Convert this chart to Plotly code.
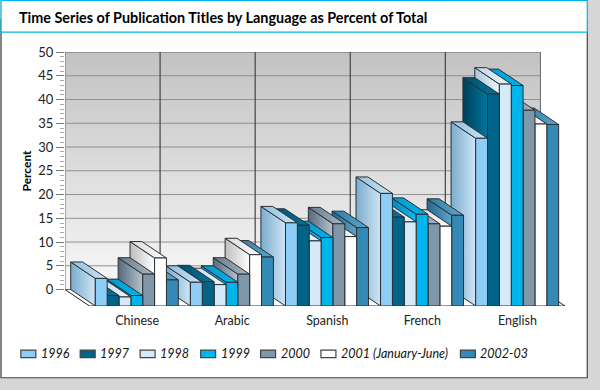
import plotly.graph_objects as go

languages = ["Chinese", "Arabic", "Spanish", "French", "English"]
periods = ["1996", "1997", "1998", "1999", "2000", "2001 (January-June)", "2002-03"]

# percent of total, one list per period, same order as languages
p1996 = [5.8, 5.0, 17.5, 23.7, 35.3]
p1997 = [2.2, 5.1, 17.0, 18.7, 44.6]
p1998 = [1.9, 4.5, 13.7, 17.7, 46.7]
p1999 = [2.2, 5.0, 14.4, 19.3, 46.4]
p2000 = [6.7, 6.7, 17.3, 17.3, 41.2]
p2001 = [10.1, 10.8, 14.6, 16.8, 38.3]
p2002 = [5.5, 10.3, 16.5, 19.1, 38.2]
series = [p1996, p1997, p1998, p1999, p2000, p2001, p2002]

y_ticks = [0, 5, 10, 15, 20, 25, 30, 35, 40, 45, 50]

front_colors = ["#8ecdf5", "#006489", "#d5e9f8", "#00b4ec", "#7f97a9", "#ffffff", "#338ab7"]
side_back = ["#7aaccd", "#003f58", "#a9c6dc", "#0089b8", "#56697a", "#bdbdbd", "#24668c"]
side_front = ["#cfe5f5", "#00769f", "#eef6fb", "#16b8ee", "#b4c4d0", "#ffffff", "#5ea5ca"]
top_back = ["#8fc0de", "#004f6e", "#bdd5e6", "#0099cc", "#66798a", "#d8d8d8", "#2f7aa3"]
top_front = ["#cbe4f6", "#00779f", "#eef6fb", "#00b4ec", "#a9bac7", "#ffffff", "#5fa6cb"]
edge = "#2b2f33"

# pixel layout of the plot area
L, R, T, B = 64.5, 565.0, 52.3, 305.7
PX_X = 95.2   # px per category
PX_Y = 4.74   # px per percent
DX = 24.6 / PX_X   # depth of the fake 3d, in axis units
DY = (B - 289.3) / PX_Y
BAR_W = 11.87 / PX_X
PAD = 5.75 / PX_X
FLOOR = -DY


def px(x):
    return (x - L) / (R - L)


def py(y):
    return (B - y) / (B - T)


def grad(a, b, kind="horizontal"):
    return dict(type=kind, colorscale=[[0, a], [1, b]])


def poly(xs, ys, gradient=None, color=None, line=edge, width=1):
    kw = dict(fillgradient=gradient) if gradient else dict(fillcolor=color)
    return go.Scatter(x=xs, y=ys, mode="lines", fill="toself", line=dict(color=line, width=width),
                      hoverinfo="skip", showlegend=False, cliponaxis=False, **kw)


fig = go.Figure()

# floor and back wall
fig.add_trace(poly([-DX, 0, 5, 5 - DX, -DX], [0, FLOOR, FLOOR, 0, 0], color="#ffffff", line="#222222"))
fig.add_trace(poly([-DX, 5 - DX, 5 - DX, -DX, -DX], [0, 0, 50, 50, 0],
                   gradient=grad("#f8f8f8", "#c2c2c2", "vertical"), line="#666666"))

# gridlines on the wall
gx, gy = [], []
for t in y_ticks[1:-1]:
    gx += [-DX, 5 - DX, None]
    gy += [t, t, None]
fig.add_trace(go.Scatter(x=gx, y=gy, mode="lines", line=dict(color="#909090", width=1),
                         hoverinfo="skip", showlegend=False))
vx, vy = [], []
for i in range(1, 5):
    vx += [i - DX, i - DX, None]
    vy += [0, 50, None]
fig.add_trace(go.Scatter(x=vx, y=vy, mode="lines", line=dict(color="#444444", width=1.2),
                         hoverinfo="skip", showlegend=False))

# bars, right to left: the camera sits on the left, so left bars hide right ones
for c in reversed(range(len(languages))):
    for s in reversed(range(len(series))):
        v = series[s][c]
        x0 = c + PAD + s * BAR_W
        x1 = x0 + BAR_W
        top = v - DY
        fig.add_trace(poly([x0 - DX, x0, x0, x0 - DX, x0 - DX], [v, top, FLOOR, 0, v],
                           gradient=grad(side_back[s], side_front[s])))
        fig.add_trace(poly([x0 - DX, x1 - DX, x1, x0, x0 - DX], [v, v, top, top, v],
                           gradient=grad(top_back[s], top_front[s])))
        fig.add_trace(poly([x0, x1, x1, x0, x0], [FLOOR, FLOOR, top, top, FLOOR], color=front_colors[s]))

shapes = [
    dict(type="rect", xref="paper", yref="paper", x0=px(12.5), x1=px(600), y0=py(13), y1=py(390),
         fillcolor="#d6d6d6", line_width=0, layer="below"),
    dict(type="rect", xref="paper", yref="paper", x0=px(0.5), x1=px(587.3), y0=py(20), y1=py(377.3),
         fillcolor="#ffffff", line=dict(color="#444444", width=1.2), layer="below"),
    dict(type="rect", xref="paper", yref="paper", x0=px(0.5), x1=px(587.3), y0=py(0.7), y1=py(32.5),
         fillcolor="#ffffff", line=dict(color="#00b5ef", width=1.2), layer="below"),
]
annotations = [
    dict(text="<b>Time Series of Publication Titles by Language as Percent of Total</b>",
         xref="paper", yref="paper", x=px(16.5), y=py(18), xanchor="left", yanchor="middle", showarrow=False,
         font=dict(family="Lato", size=14.4, color="#000000")),
    dict(text="<b>Percent</b>", xref="paper", yref="paper", x=px(26), y=py(171), textangle=-90,
         xanchor="center", yanchor="middle", showarrow=False, font=dict(family="Lato", size=12, color="#000000")),
]

# legend keys, hand placed because the 2001 entry is wider than the others
legend_x = [20.3, 79.7, 139.7, 200.3, 260.3, 320.7, 460.3]
for s, name in enumerate(periods):
    shapes.append(dict(type="rect", xref="paper", yref="paper", x0=px(legend_x[s]), x1=px(legend_x[s] + 15),
                       y0=py(349.7), y1=py(357.3), fillcolor=front_colors[s],
                       line=dict(color="#444444", width=1.2)))
    annotations.append(dict(text="<i>" + name + "</i>", xref="paper", yref="paper", x=px(legend_x[s] + 18),
                            y=py(353.5), xanchor="left", yanchor="middle", showarrow=False,
                            font=dict(family="Lato", size=12.5, color="#111111")))

fig.update_layout(
    width=600, height=390,
    margin=dict(l=L, r=600 - R, t=T, b=390 - B, pad=0),
    paper_bgcolor="#d6d6d6", plot_bgcolor="rgba(0,0,0,0)",
    shapes=shapes, annotations=annotations, showlegend=False,
    xaxis=dict(range=[-DX, 5], tickvals=[i + 0.5 for i in range(5)], ticktext=languages,
               showgrid=False, zeroline=False, showline=False, ticks="outside", ticklen=3,
               tickcolor="rgba(0,0,0,0)", tickfont=dict(family="Lato", size=12.5, color="#222222")),
    yaxis=dict(range=[FLOOR, 50], tickvals=y_ticks, showgrid=False, zeroline=False, showline=False,
               ticks="outside", ticklen=8, tickcolor="#777777",
               tickfont=dict(family="Lato", size=13, color="#222222"),
               minor=dict(tickvals=[i for i in range(1, 50) if i % 5], ticks="outside", ticklen=4,
                          tickcolor="#aaaaaa")),
)

# page margin off, the figure fills the window
fig.write_html("out.html", config={"displayModeBar": False},
               post_script="document.body.style.margin='0';document.body.style.overflow='hidden';")
